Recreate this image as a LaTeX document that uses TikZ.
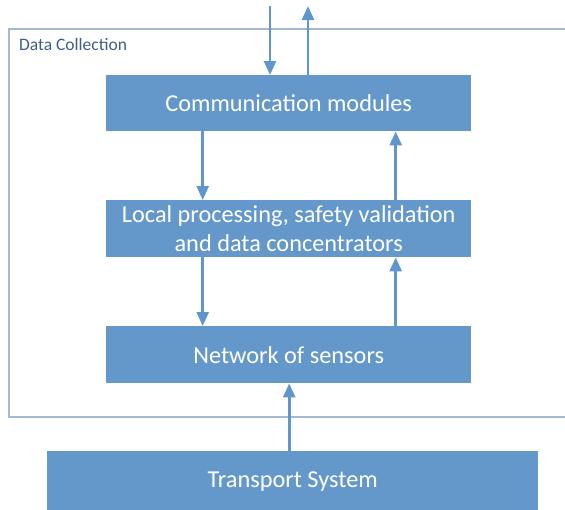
\documentclass[tikz,border=0pt]{standalone}
\usepackage{fontspec}
\setmainfont{Carlito}
\usetikzlibrary{arrows.meta}
\definecolor{boxblue}{HTML}{6498CB}
\definecolor{framegray}{HTML}{A3B8D3}
\definecolor{linkblue}{HTML}{5F96CC}
\definecolor{labelblue}{HTML}{3F5F86}
\tikzset{
  x=1pt, y=-1pt,
  stage/.style={draw=none, fill=boxblue, text=white, font=\fontsize{24.3}{29.5}\selectfont,
    align=center, inner sep=0pt, anchor=north west},
  link/.style={draw=linkblue, line width=2.6pt,
    -{Triangle[width=12pt,length=14pt]}},
}
\begin{document}
\begin{tikzpicture}
\useasboundingbox (0,0) rectangle (565,509);
% outer frame of the data collection stage
\draw[framegray, line width=1.6pt] (580,29) -- (9,29) -- (9,417) -- (580,417);
\node[anchor=north west, text=labelblue, font=\fontsize{17.5}{20}\selectfont, inner sep=0pt] (dc) at (19,38) {Data Collection};
% stages
\node[stage, minimum width=365pt, minimum height=56pt] (comm) at (106,75) {Communication modules};
\node[stage, minimum width=365pt, minimum height=57pt] (proc) at (106,200) {Local processing, safety validation\\and data concentrators};
\node[stage, minimum width=365pt, minimum height=57pt] (sens) at (106,326) {Network of sensors};
\node[stage, minimum width=491pt, minimum height=60pt] (trans) at (47,451) {Transport System};
% external connections
\coordinate (inTop) at (270,6);
\coordinate (outTop) at (308,6);
\draw[link] (inTop) -- (inTop |- comm.north);
\draw[link] (outTop |- comm.north) -- (outTop);
% internal data flow
\draw[link] ([xshift=-86pt]comm.south) -- ([xshift=-86pt]proc.north);
\draw[link] ([xshift=107pt]proc.north) -- ([xshift=107pt]comm.south);
\draw[link] ([xshift=-86pt]proc.south) -- ([xshift=-86pt]sens.north);
\draw[link] ([xshift=107pt]sens.north) -- ([xshift=107pt]proc.south);
\draw[link] ([xshift=-3.5pt]trans.north) -- ([xshift=-3.5pt]trans.north |- sens.south);
\end{tikzpicture}
\end{document}
